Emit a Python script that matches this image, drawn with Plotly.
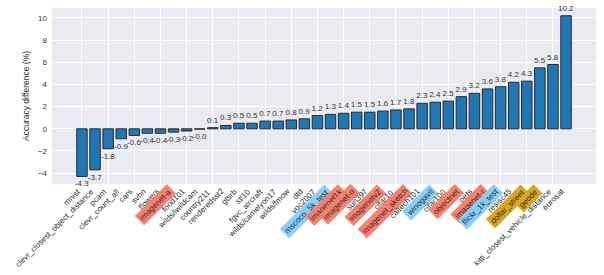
import plotly.graph_objects as go

categories = ["mnist", "clevr_closest_object_distance", "pcam", "clevr_count_all", "cars", "svhn",
              "flowers", "imagenet-a", "food101", "wilds/iwildcam", "country211", "renderedsst2",
              "gtsrb", "stl10", "fgvc_aircraft", "wilds/camelyon17", "wilds/fmow", "dtd", "voc2007",
              "mscoco_5k_test", "imagenet1k", "imagenet-o", "sun397", "imagenetv2", "cifar10",
              "imagenet_sketch", "caltech101", "winogavil", "cifar100", "objectnet", "pets",
              "imagenet-r", "flickr_1k_test", "resisc45", "dollar_street", "geode",
              "kitti_closest_vehicle_distance", "eurosat"]
values = [-4.3, -3.7, -1.8, -0.9, -0.6, -0.4, -0.4, -0.3, -0.2, -0.03, 0.1, 0.3, 0.5, 0.5, 0.7, 0.7,
          0.8, 0.9, 1.2, 1.3, 1.4, 1.5, 1.5, 1.6, 1.7, 1.8, 2.3, 2.4, 2.5, 2.9, 3.2, 3.6, 3.8, 4.2,
          4.3, 5.5, 5.8, 10.2]
# highlight groups for tick labels
red_group = ["imagenet-a", "imagenet1k", "imagenet-o", "imagenetv2", "imagenet_sketch", "objectnet", "imagenet-r"]
blue_group = ["mscoco_5k_test", "winogavil", "flickr_1k_test"]
gold_group = ["dollar_street", "geode"]
y_ticks = [-4, -2, 0, 2, 4, 6, 8, 10]

FONT = "Liberation Sans, Arial, sans-serif"
TXT = "#333333"

fig = go.Figure()
fig.add_trace(go.Bar(
    x=categories, y=values, width=0.8,
    marker=dict(color="#1f77b4", line=dict(color="#2a2a2a", width=1)),
    text=[f"{v:.1f}" for v in values], textposition="outside",
    textfont=dict(family=FONT, size=8, color=TXT),
    constraintext="none", cliponaxis=False, showlegend=False,
))

annotations = []
for c in categories:
    bg = None
    if c in red_group:
        bg = "#F8806F"
    elif c in blue_group:
        bg = "#87CEFA"
    elif c in gold_group:
        bg = "#DAA520"
    ann = dict(x=c, y=0, xref="x", yref="paper", text=c, showarrow=False,
               textangle=-45, xanchor="right", yanchor="top",
               font=dict(family=FONT, size=8, color="#2a2a2a"), yshift=-3)
    if bg:
        ann.update(bgcolor=bg, borderpad=2, borderwidth=0, xshift=2.8, yshift=-0.2)
    else:
        ann.update(borderpad=0, borderwidth=0)
    annotations.append(ann)

fig.update_layout(
    width=604, height=275,
    margin=dict(l=52, r=8, t=8, b=91, autoexpand=False),
    paper_bgcolor="white", plot_bgcolor="#EAEAF2",
    font=dict(family=FONT, size=8, color=TXT),
    bargap=0.2,
    annotations=annotations,
    xaxis=dict(range=[-2.29, 39.29], showticklabels=False, showgrid=True, automargin=False,
               gridcolor="white", gridwidth=1, zeroline=False, ticks=""),
    yaxis=dict(range=[-4.98, 10.9], tickvals=y_ticks, showgrid=True, gridcolor="white",
               gridwidth=1, zeroline=False, ticks="", ticklabelstandoff=4, automargin=False,
               tickfont=dict(family=FONT, size=8, color=TXT),
               title=dict(text="Accuracy difference (%)", standoff=6,
                          font=dict(family=FONT, size=8.5, color=TXT))),
)

fig.write_html("out.html", config={"displayModeBar": False},
               post_script="document.body.style.margin='0';document.body.style.overflow='hidden';")
